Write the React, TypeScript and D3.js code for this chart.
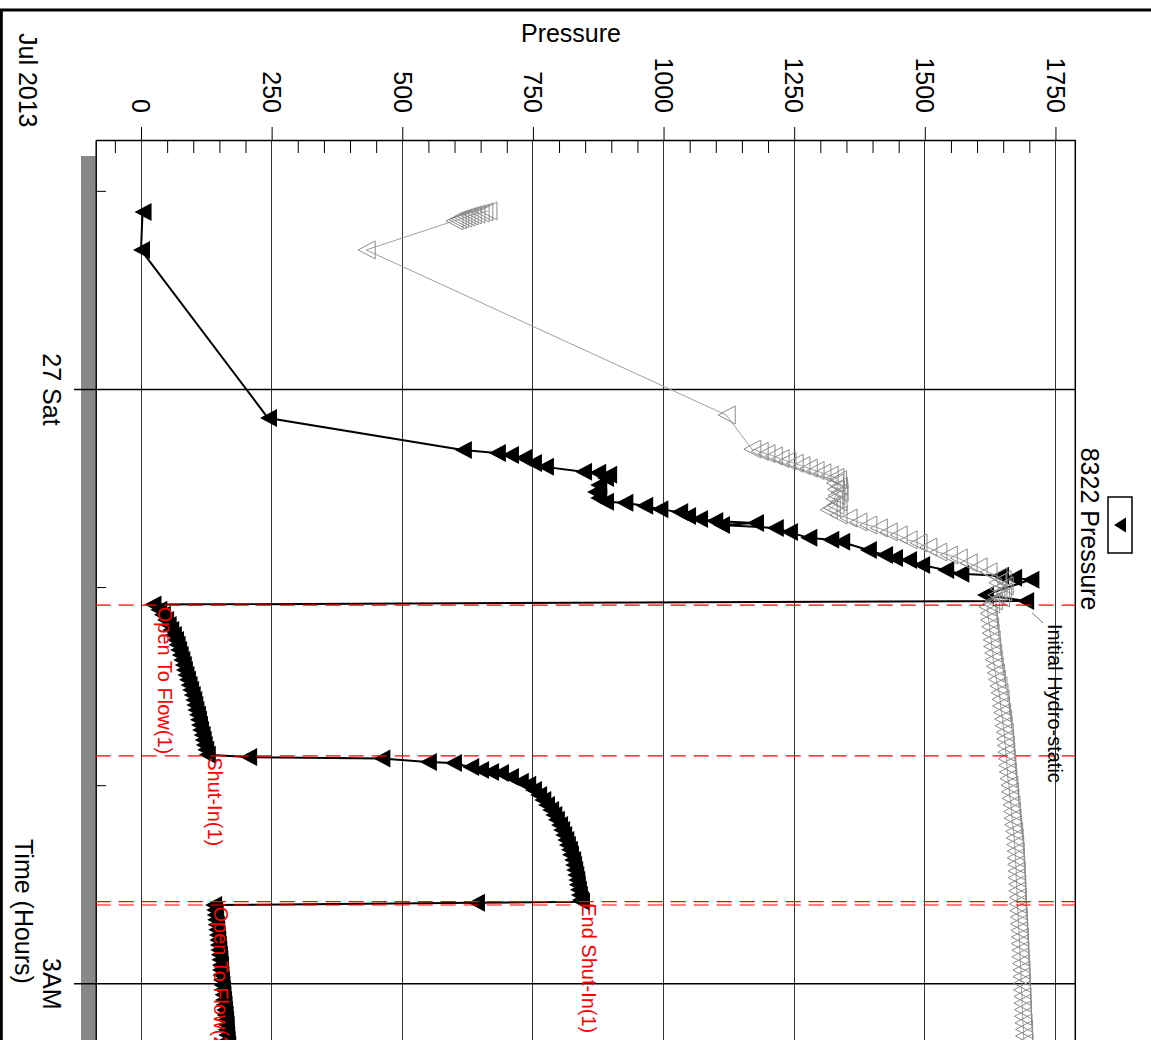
import React, { useEffect, useRef } from 'react';
import * as d3 from 'd3';

// times are minutes after midnight of Sat 27 Jul 2013, values in psi
const gauge8322: [number, number][] = [
  [-53.6, 3], [-42.1, 0], [8.8, 243], [18.5, 616], [19.4, 681], [20.0, 706], [20.9, 731], [22.4, 750],
  [23.6, 773], [25.1, 846], [25.4, 873], [26.0, 894], [27.0, 888], [29.1, 875], [31.2, 869], [33.0, 875],
  [34.2, 888], [34.5, 925], [35.4, 963], [36.4, 992], [37.3, 1030], [38.5, 1045], [39.4, 1068], [40.0, 1097],
  [40.6, 1175], [41.2, 1110], [42.1, 1213], [43.3, 1240], [45.1, 1277], [45.7, 1319], [46.3, 1340], [48.8, 1391],
  [50.3, 1422], [51.2, 1441], [51.8, 1468], [53.3, 1493], [54.8, 1539], [56.0, 1568], [56.6, 1644], [57.2, 1669],
  [57.8, 1702], [62.4, 1615], [64.2, 1692],
  // open to flow 1
  [65.3, 22], [66.9, 33], [68.4, 40], [70.0, 46], [71.5, 51], [73.0, 56], [74.5, 61], [76.0, 65], [77.5, 68],
  [79.1, 71], [80.6, 74], [82.1, 77], [83.6, 80], [85.1, 82], [86.6, 85], [88.1, 88], [89.7, 91], [91.2, 94],
  [92.7, 97], [94.2, 100], [95.7, 102], [97.2, 104], [98.7, 107], [100.2, 109], [101.8, 111], [103.3, 113],
  [104.8, 116], [106.3, 118], [107.8, 120], [109.3, 123], [110.8, 126],
  // shut-in 1
  [111.5, 205], [111.9, 460], [113.0, 549], [113.3, 597], [114.5, 630], [115.4, 649], [116.0, 668], [116.3, 687],
  [117.5, 706], [119.0, 725], [119.9, 739], [121.5, 750], [123.0, 760], [124.5, 768], [126.0, 775], [127.5, 783],
  [129.0, 789], [130.5, 794], [132.1, 800], [133.6, 804], [135.1, 808], [136.6, 812], [138.1, 815], [139.6, 819],
  [141.1, 821], [142.7, 825], [144.2, 827], [145.7, 829], [147.2, 831], [148.7, 833], [150.2, 834], [151.7, 836],
  [153.3, 838], [154.8, 840], [155.3, 842],
  // open to flow 2
  [155.6, 641], [156.3, 138], [157.8, 140], [159.3, 141], [160.8, 142], [162.3, 143], [163.8, 144], [165.4, 145],
  [166.9, 146], [168.4, 147], [169.9, 148], [171.4, 149], [172.9, 150], [174.5, 151], [176.0, 151], [177.5, 152],
  [179.0, 153], [180.5, 154], [182.0, 155], [183.5, 156], [185.1, 157], [186.6, 158], [188.1, 159], [189.6, 160],
  [191.1, 161], [192.6, 162], [194.1, 162], [195.7, 163], [197.2, 164], [198.7, 165], [200.2, 166],
];

// grey trace (second gauge), same units
const gaugeGrey: [number, number][] = [
  [-53.9, 664], [-53.6, 656], [-53.3, 649], [-53.0, 641], [-52.7, 634], [-52.4, 628], [-52.1, 622], [-51.8, 616],
  [-51.5, 610], [-51.2, 605], [-50.9, 599], [-42.1, 431], [7.9, 1120],
  [18.2, 1169], [18.9, 1183], [19.6, 1196], [20.3, 1210], [21.1, 1223], [21.8, 1236], [22.5, 1250], [23.2, 1263],
  [24.0, 1277], [24.7, 1290], [25.4, 1303], [26.1, 1317], [26.8, 1328],
  [27.5, 1333], [28.5, 1327], [29.5, 1335], [30.4, 1329], [31.4, 1336], [32.3, 1330], [33.3, 1326], [34.2, 1334],
  [35.2, 1328], [36.0, 1321],
  [36.6, 1315], [38.2, 1334], [39.1, 1353], [40.3, 1372], [41.2, 1391], [42.1, 1411], [43.3, 1430], [44.2, 1449],
  [45.7, 1468], [46.6, 1487], [47.9, 1506], [49.4, 1525], [50.3, 1545], [51.2, 1564], [52.7, 1583], [53.9, 1602],
  [55.4, 1621], [56.9, 1640],
  [57.8, 1648], [58.7, 1638], [59.6, 1652], [60.6, 1640], [61.5, 1649], [62.4, 1636], [63.3, 1645], [64.2, 1631],
  [65.1, 1626],
  [66, 1619], [68, 1621], [70, 1622], [72, 1624], [74, 1625], [76, 1627], [78, 1628], [80, 1630], [82, 1631],
  [84, 1633], [86, 1635], [88, 1637], [90, 1640], [92, 1642], [94, 1644], [96, 1645], [98, 1647], [100, 1649],
  [102, 1650], [104, 1652], [106, 1653], [108, 1654], [110, 1655], [112, 1656], [114, 1657], [116, 1658],
  [118, 1659], [120, 1661], [122, 1662], [124, 1663], [126, 1665], [128, 1666], [130, 1667], [132, 1668],
  [134, 1670], [136, 1671], [138, 1672], [140, 1673], [142, 1673], [144, 1674], [146, 1675], [148, 1675],
  [150, 1676], [152, 1676], [154, 1677], [156, 1677], [158, 1678], [160, 1679], [162, 1679], [164, 1680],
  [166, 1681], [168, 1681], [170, 1682], [172, 1682], [174, 1683], [176, 1684], [178, 1684], [180, 1685],
  [182, 1685], [184, 1686], [186, 1686], [188, 1687], [190, 1687], [192, 1688], [194, 1689], [196, 1689],
  [198, 1690], [200, 1690],
];

const eventTimes = [65.5, 111.1, 155.3, 156.3];
const eventNames = ['Open To Flow(1)', 'Shut-In(1)', 'End Shut-In(1)', 'Open To Flow(2)'];
const eventPressures = [30, 126, 842, 138];

const pressureTicks = [0, 250, 500, 750, 1000, 1250, 1500, 1750];
const hydroStatic: [number, number] = [64.2, 1692];

const W = 1151;
const H = 1040;
const FONT = '"Liberation Sans", Arial, Helvetica, sans-serif';

const day0 = new Date(2013, 6, 27).getTime();
const at = (m: number) => new Date(day0 + m * 60000);

const App = () => {
  const svgRef = useRef<SVGSVGElement>(null);

  useEffect(() => {
    const svg = d3.select(svgRef.current);
    svg.selectAll('*').remove();

    const left = 95.7, right = 1075.3, top = 140;
    const x = d3.scaleLinear().domain([-86.7, 1788]).range([left, right]);
    const y = d3.scaleTime().domain([at(-75.4), at(200)]).range([top, 1049.3]);

    // frame round the whole picture
    svg.append('path')
      .attr('d', `M1.3,${H} V10 H${W}`)
      .attr('fill', 'none').attr('stroke', '#000').attr('stroke-width', 3);

    svg.append('text')
      .attr('x', 571).attr('y', 42)
      .attr('text-anchor', 'middle')
      .style('font-family', FONT).style('font-size', '25px')
      .text('Pressure');

    // grey range bar next to the time axis
    svg.append('rect')
      .attr('x', 81).attr('y', 156)
      .attr('width', left - 81).attr('height', H - 156)
      .attr('fill', '#888');

    // vertical grid
    svg.append('g').selectAll('line').data(pressureTicks).join('line')
      .attr('x1', d => x(d)).attr('x2', d => x(d))
      .attr('y1', top).attr('y2', H)
      .attr('stroke', '#333').attr('stroke-width', 1)
      .attr('shape-rendering', 'crispEdges');

    // pressure axis, major ticks + rotated labels
    const xTop = svg.append('g')
      .attr('transform', `translate(0,${top})`)
      .call(d3.axisTop(x).tickValues(pressureTicks).tickSize(13).tickSizeOuter(0).tickFormat(d3.format('d')));
    xTop.select('.domain').remove();
    xTop.attr('font-family', FONT).attr('font-size', 25);
    xTop.selectAll('text')
      .attr('x', 0).attr('y', 0).attr('dy', '0.37em')
      .attr('transform', 'translate(0,-27) rotate(90)')
      .attr('text-anchor', 'end')
      .attr('fill', '#000');

    // minor ticks every 50
    const minor = d3.range(-50, 1751, 50).filter(v => v % 250 !== 0);
    const xMinor = svg.append('g')
      .attr('transform', `translate(0,${top})`)
      .call(d3.axisBottom(x).tickValues(minor).tickSize(13).tickSizeOuter(0).tickFormat(() => ''));
    xMinor.select('.domain').attr('stroke-width', 1.5);

    // time axis
    const hourFmt = (d: Date) =>
      d.getHours() === 0 ? d3.timeFormat('%-d %a')(d) : d3.timeFormat('%-I%p')(d);
    const yMajor = y.ticks(d3.timeHour.every(3) as any);
    const yMinorTicks = y.ticks(d3.timeHour.every(1) as any).filter(d => d.getHours() % 3 !== 0);

    const yAxis = svg.append('g')
      .attr('transform', `translate(${left},0)`)
      .call(d3.axisLeft(y).tickValues(yMajor).tickSize(left - 74).tickSizeOuter(0).tickFormat(hourFmt as any));
    yAxis.select('.domain').remove();
    yAxis.attr('font-family', FONT).attr('font-size', 25);
    yAxis.selectAll('line')
      .attr('x1', -(left - 74)).attr('x2', right - left)
      .attr('stroke', '#000').attr('stroke-width', 1.5);
    yAxis.selectAll('text')
      .attr('x', 0).attr('dy', 0)
      .attr('transform', `translate(${43 - left},0) rotate(90)`)
      .attr('text-anchor', 'middle')
      .attr('fill', '#000');

    const yMin = svg.append('g')
      .attr('transform', `translate(${left},0)`)
      .call(d3.axisRight(y).tickValues(yMinorTicks).tickSize(10.3).tickSizeOuter(0).tickFormat(() => ''));
    yMin.select('.domain').attr('stroke-width', 1.5);

    svg.append('line')
      .attr('x1', right).attr('x2', right).attr('y1', top).attr('y2', H)
      .attr('stroke', '#000').attr('stroke-width', 1.5);

    svg.append('text')
      .attr('transform', 'translate(19,33) rotate(90)')
      .style('font-family', FONT).style('font-size', '25px')
      .text('Jul 2013');
    svg.append('text')
      .attr('transform', 'translate(15,839) rotate(90)')
      .style('font-family', FONT).style('font-size', '25px')
      .text('Time (Hours)');

    const line = d3.line<[number, number]>()
      .x(d => x(d[1]))
      .y(d => y(at(d[0])));
    const tri = 'M-8,0 L9,-9 L9,9 Z';

    // black gauge
    svg.append('path').datum(gauge8322)
      .attr('d', line)
      .attr('fill', 'none').attr('stroke', '#000').attr('stroke-width', 2);
    svg.append('g').selectAll('path').data(gauge8322).join('path')
      .attr('d', tri)
      .attr('transform', d => `translate(${x(d[1])},${y(at(d[0]))})`)
      .attr('fill', '#000');

    // grey gauge
    svg.append('path').datum(gaugeGrey)
      .attr('d', line)
      .attr('fill', 'none').attr('stroke', '#a0a0a0').attr('stroke-width', 1);
    svg.append('g').selectAll('path').data(gaugeGrey).join('path')
      .attr('d', tri)
      .attr('transform', d => `translate(${x(d[1])},${y(at(d[0]))})`)
      .attr('fill', 'none').attr('stroke', '#8c8c8c').attr('stroke-width', 1);

    // test events
    svg.append('g').selectAll('line').data(eventTimes).join('line')
      .attr('x1', left).attr('x2', right)
      .attr('y1', d => y(at(d))).attr('y2', d => y(at(d)))
      .attr('stroke', '#ff0000').attr('stroke-width', 1.2)
      .attr('stroke-dasharray', '15,8');
    svg.append('g').selectAll('text').data(eventNames).join('text')
      .attr('transform', (d, i) => `translate(${x(eventPressures[i]) + 1},${y(at(eventTimes[i])) + 1.5}) rotate(90)`)
      .attr('fill', '#ff0000')
      .style('font-family', FONT).style('font-size', '20px')
      .text(d => d);

    // initial hydrostatic callout
    const hx = x(hydroStatic[1]);
    const hy = y(at(hydroStatic[0]));
    svg.append('line')
      .attr('x1', hx + 7).attr('y1', hy + 12).attr('x2', hx + 18).attr('y2', hy + 22)
      .attr('stroke', '#777').attr('stroke-width', 1);
    svg.append('text')
      .attr('transform', `translate(${hx + 23},${hy + 23}) rotate(90)`)
      .style('font-family', FONT).style('font-size', '20px')
      .text('Initial Hydro-static');

    // legend
    svg.append('rect')
      .attr('x', 1108).attr('y', 497).attr('width', 24).attr('height', 56)
      .attr('fill', '#fff').attr('stroke', '#000').attr('stroke-width', 1.5);
    svg.append('path')
      .attr('d', 'M-6,0 L6,-7.5 L6,7.5 Z')
      .attr('transform', 'translate(1120,525)')
      .attr('fill', '#000');
    svg.append('text')
      .attr('transform', 'translate(1081,529) rotate(90)')
      .attr('text-anchor', 'middle')
      .style('font-family', FONT).style('font-size', '25px')
      .text('8322 Pressure');
  }, []);

  return (
    <svg
      ref={svgRef}
      width={W}
      height={H}
      style={{ position: 'absolute', left: 0, top: 0, background: '#fff' }}
    />
  );
};

export default App;
